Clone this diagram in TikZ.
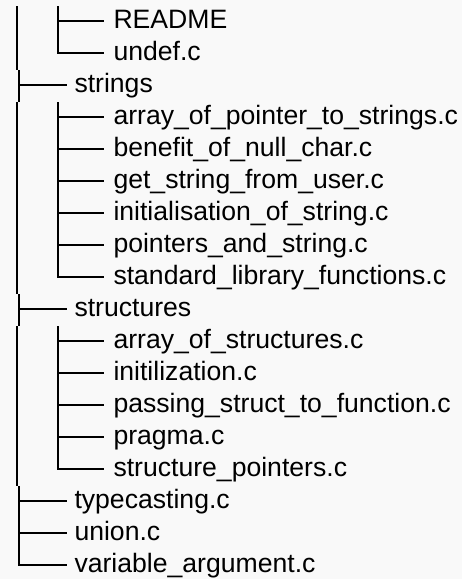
\documentclass[tikz,border=0pt]{standalone}
\usepackage{fontspec}
\setmainfont{Liberation Sans}
\definecolor{bgcol}{HTML}{F9F9F9}
\begin{document}
\begin{tikzpicture}[x=1pt,y=-1pt,
  treeline/.style={line width=2pt, black, line cap=butt, line join=miter},
  leaf/.style={anchor=base west, inner ysep=0pt, outer sep=0pt, text=black,
    font=\fontsize{26.6}{30}\selectfont}]
\fill[bgcol] (0,0) rectangle (462,579);
\useasboundingbox (0,0) rectangle (462,579);
% rows: index / level / text
\foreach \i/\lv/\t in {
  0/2/README,
  1/2/undef.c,
  2/1/strings,
  3/2/array\_of\_pointer\_to\_strings.c,
  4/2/benefit\_of\_null\_char.c,
  5/2/get\_string\_from\_user.c,
  6/2/initialisation\_of\_string.c,
  7/2/pointers\_and\_string.c,
  8/2/standard\_library\_functions.c,
  9/1/structures,
  10/2/array\_of\_structures.c,
  11/2/initilization.c,
  12/2/passing\_struct\_to\_function.c,
  13/2/pragma.c,
  14/2/structure\_pointers.c,
  15/1/typecasting.c,
  16/1/union.c,
  17/1/variable\_argument.c}{
  \pgfmathsetmacro\cy{20.7+32*\i}
  \pgfmathsetmacro\bx{\lv==1 ? 19.3 : 58.3}
  \pgfmathsetmacro\ex{\lv==1 ? 66.5 : 104}
  \pgfmathsetmacro\xs{\lv==1 ? 8 : 9.5}
  \coordinate (b\i) at (\bx,\cy);
  \node[leaf, inner xsep=\xs pt] (t\i) at (\ex,\cy+8) {\t};
  \draw[treeline] (b\i) -- (t\i.base west |- b\i);
}
% outer column verticals
\coordinate (o1) at (17.3,6);   \coordinate (o2) at (17.3,69.5);
\coordinate (o3) at (19.3,70);  \coordinate (o4) at (19.3,101.5);
\coordinate (o5) at (17.3,102); \coordinate (o6) at (17.3,293.5);
\coordinate (o7) at (19.3,294); \coordinate (o8) at (19.3,325.5);
\coordinate (o9) at (17.3,326); \coordinate (o10) at (17.3,485.5);
\coordinate (o11) at (19.3,486);
\draw[treeline] (o1) -- (o2);
\draw[treeline] (o3) -- (o4);
\draw[treeline] (o5) -- (o6);
\draw[treeline] (o7) -- (o8);
\draw[treeline] (o9) -- (o10);
\draw[treeline] (o11) -- ([yshift=-1pt]b17);
% inner column verticals
\coordinate (i1) at (58.3,6);
\coordinate (i2) at (58.3,102);
\coordinate (i3) at (58.3,326);
\draw[treeline] (i1) -- ([yshift=-1pt]b1);
\draw[treeline] (i2) -- ([yshift=-1pt]b8);
\draw[treeline] (i3) -- ([yshift=-1pt]b14);
\end{tikzpicture}
\end{document}
